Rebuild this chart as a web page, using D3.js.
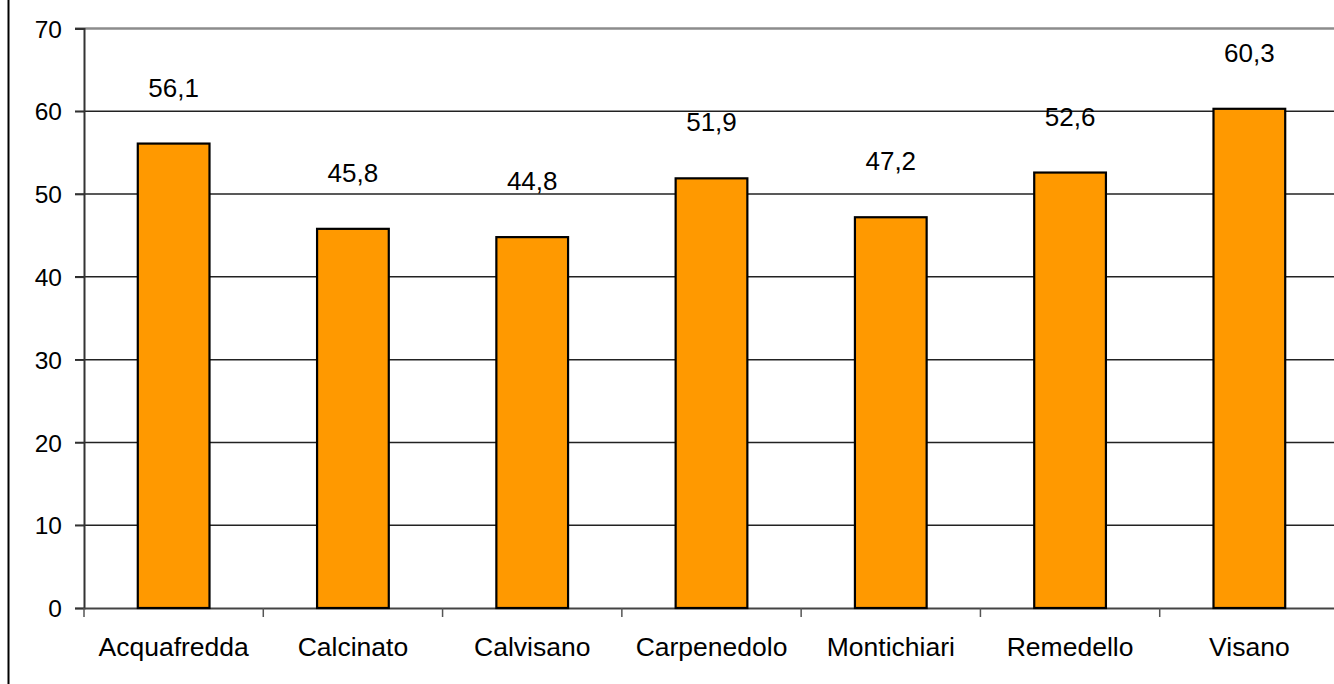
<!DOCTYPE html>
<html>
<head>
<meta charset="utf-8">
<script src="https://cdn.jsdelivr.net/npm/d3@7"></script>
<style>
  body { margin: 0; background: #fff; }
  svg { display: block; font-family: "Liberation Sans", Arial, sans-serif; }
</style>
</head>
<body>
<div id="chart"></div>
<script>
// Comuni and values
const categories = ['Acquafredda', 'Calcinato', 'Calvisano', 'Carpenedolo', 'Montichiari', 'Remedello', 'Visano'];
const values = [56.1, 45.8, 44.8, 51.9, 47.2, 52.6, 60.3];
const yTicks = [0, 10, 20, 30, 40, 50, 60, 70];

const width = 1334;
const height = 684;
const plot = { left: 84, right: 1339, top: 28.5, bottom: 608 };

const svg = d3.select('#chart').append('svg')
  .attr('width', width)
  .attr('height', height);

// outer border on the left
svg.append('line')
  .attr('x1', 8.5).attr('x2', 8.5)
  .attr('y1', 0).attr('y2', height)
  .style('stroke', '#000')
  .style('stroke-width', 2);

const x = d3.scaleBand()
  .domain(categories)
  .range([plot.left, plot.right])
  .paddingInner(0.6)
  .paddingOuter(0.3);

const xBand = d3.scaleBand()
  .domain(categories)
  .range([plot.left, plot.right]);

const y = d3.scaleLinear()
  .domain([0, 70])
  .range([plot.bottom, plot.top]);

// gridlines
svg.selectAll('.grid')
  .data(yTicks.filter(d => d > 0))
  .enter().append('line')
  .attr('class', 'grid')
  .attr('x1', plot.left - 9)
  .attr('x2', plot.right)
  .attr('y1', d => y(d))
  .attr('y2', d => y(d))
  .style('stroke', d => d === 70 ? '#8c8c8c' : '#222')
  .style('stroke-width', d => d === 70 ? 2.5 : 1.5);

// y axis
const yAxis = d3.axisLeft(y)
  .tickValues(yTicks)
  .tickSize(9)
  .tickPadding(13)
  .tickFormat(d3.format('d'));

const yg = svg.append('g')
  .attr('transform', `translate(${plot.left},0)`)
  .call(yAxis);
yg.select('.domain').style('stroke', '#333').style('stroke-width', 2);
yg.selectAll('.tick line').style('stroke', '#333').style('stroke-width', 1.5);
yg.selectAll('.tick text')
  .style('font-size', '24.5px')
  .style('fill', '#000')
  .attr('dy', '0.35em');

// x axis
const xAxis = d3.axisBottom(xBand)
  .tickSize(0)
  .tickPadding(29)
  .tickSizeOuter(0);

const xg = svg.append('g')
  .attr('transform', `translate(0,${plot.bottom})`)
  .call(xAxis);
xg.select('.domain').style('stroke', '#444').style('stroke-width', 2);
xg.selectAll('.tick text')
  .style('font-size', '26.5px')
  .style('fill', '#000');

// category separator ticks
svg.selectAll('.sep')
  .data(categories)
  .enter().append('line')
  .attr('class', 'sep')
  .attr('x1', d => xBand(d))
  .attr('x2', d => xBand(d))
  .attr('y1', plot.bottom)
  .attr('y2', plot.bottom + 9)
  .style('stroke', '#555')
  .style('stroke-width', 1.5);

// bars
svg.selectAll('.bar')
  .data(values)
  .enter().append('rect')
  .attr('class', 'bar')
  .attr('x', (d, i) => x(categories[i]))
  .attr('width', x.bandwidth())
  .attr('y', d => y(d))
  .attr('height', d => y(0) - y(d))
  .style('fill', '#ff9900')
  .style('stroke', '#000')
  .style('stroke-width', 2.2);

// value labels
svg.selectAll('.val')
  .data(values)
  .enter().append('text')
  .attr('class', 'val')
  .attr('x', (d, i) => x(categories[i]) + x.bandwidth() / 2)
  .attr('y', d => y(d) - 47)
  .attr('text-anchor', 'middle')
  .style('font-size', '26px')
  .text(d => d3.format('.1f')(d).replace('.', ','));
</script>
</body>
</html>
